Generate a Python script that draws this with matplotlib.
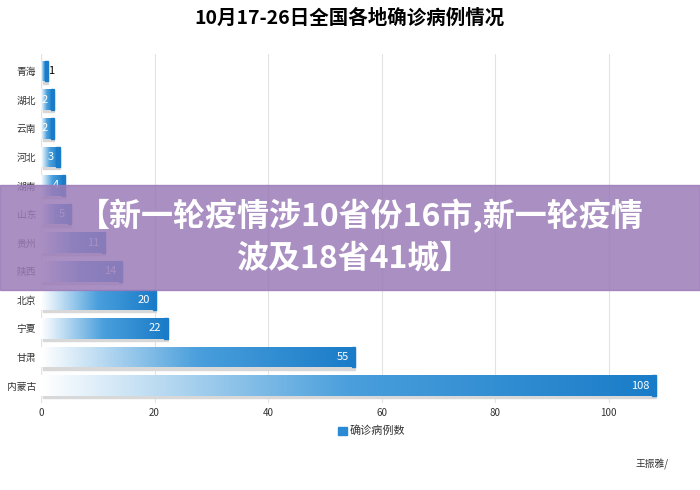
import matplotlib.pyplot as plt
import numpy as np
from matplotlib.colors import LinearSegmentedColormap
from matplotlib.patches import Rectangle

plt.rcParams["font.family"] = ["Noto Sans CJK SC", "DejaVu Sans"]

provinces = ["青海", "湖北", "云南", "河北", "湖南", "山东", "贵州", "陕西", "北京", "宁夏", "甘肃", "内蒙古"]
cases = [1, 2, 2, 3, 4, 5, 11, 14, 20, 22, 55, 108]

fig = plt.figure(figsize=(7, 4.9), dpi=100)
ax = fig.add_axes([0.0586, 0.178, 0.884, 0.712])
fade = LinearSegmentedColormap.from_list("fade", ["#ffffff", "#4a9fdc", "#1a7cc8"])
grad = np.linspace(0, 1, 256).reshape(1, -1)

n = len(provinces)
h = 0.72
for i, (p, v) in enumerate(zip(provinces, cases)):
    y = n - 1 - i
    # shadow
    ax.add_patch(Rectangle((0.3, y - h / 2 - 0.08), v, h, color="#d8d8d8", zorder=1))
    im = ax.imshow(grad, extent=(0, v, y - h / 2, y + h / 2), cmap=fade, aspect="auto", zorder=2)
    im.set_clip_path(Rectangle((0, y - h / 2), v, h, transform=ax.transData))
    ax.add_patch(Rectangle((v - 0.3, y - h / 2), 0.6, h, color="#1a7cc8", zorder=2))
    ax.text(v - 0.8 if v > 1 else v + 0.3, y, str(v), ha="right" if v > 1 else "left",
            va="center", color="white" if v > 1 else "black", fontsize=8, zorder=3)

ax.set_xlim(0, 109)
ax.set_ylim(-0.6, n - 0.4)
ax.set_yticks(range(n))
ax.set_yticklabels(provinces[::-1], fontsize=9)
ax.set_xticks([0, 20, 40, 60, 80, 100])
ax.tick_params(axis="both", length=0, labelsize=7, colors="#333333")
ax.grid(axis="x", color="#e3e3e3", lw=0.8)
ax.set_axisbelow(True)
for s in ax.spines.values():
    s.set_visible(False)
ax.axvline(0, color="#bbbbbb", lw=0.8, zorder=0)

fig.text(0.5, 0.963, "10月17-26日全国各地确诊病例情况", ha="center", va="center", fontsize=14, fontweight="bold")
fig.patches.append(Rectangle((0.483, 0.113), 0.012, 0.016, color="#2a8ad4", transform=fig.transFigure))
fig.text(0.5, 0.121, "确诊病例数", va="center", fontsize=8, color="#333333")
fig.text(0.955, 0.055, "王振雅/", ha="right", va="center", fontsize=7, color="#333333")

# banner overlay
fig.patches.append(Rectangle((0, 0.408), 1, 0.215, color="#9b7bb8", alpha=0.85,
                             transform=fig.transFigure, zorder=10))
fig.text(0.515, 0.56, "【新一轮疫情涉10省份16市,新一轮疫情", ha="center", va="center",
         fontsize=23, fontweight="bold", color="white", zorder=11)
fig.text(0.505, 0.472, "波及18省41城】", ha="center", va="center",
         fontsize=23, fontweight="bold", color="white", zorder=11)

fig.savefig("out.png", dpi=100)
